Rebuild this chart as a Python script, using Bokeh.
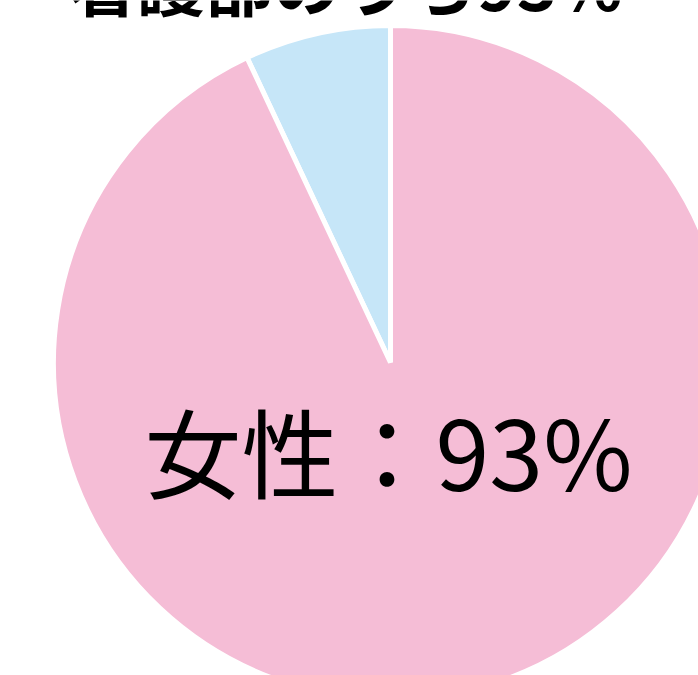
import numpy as np
from bokeh.plotting import figure
from bokeh.models import ColumnDataSource, Range1d
from bokeh.core.properties import value
from bokeh.embed import file_html
from bokeh.resources import INLINE

# data
labels = ["男性", "女性"]
shares = [7, 93]
colors = ["#c6e6f8", "#f5bdd6"]
label_text = "女性：93%"
title_text = "看護部のうち93%"

W, H = 698, 675
p = figure(width=W, height=H, output_backend="svg", toolbar_location=None,
           x_range=Range1d(0, W), y_range=Range1d(0, H), min_border=0)
p.axis.visible = False
p.grid.visible = False
p.outline_line_color = None
p.background_fill_color = "white"
p.border_fill_color = "white"

vals = np.array(shares, dtype=float)
frac = vals / vals.sum()
ends = np.pi / 2 + 2 * np.pi * np.cumsum(frac)
starts = np.concatenate([[np.pi / 2], ends[:-1]])

cx, cy, r = 390, H - 362, 337
src = ColumnDataSource(dict(label=labels, start=starts, end=ends, color=colors))
p.wedge(x=cx, y=cy, radius=r, start_angle="start", end_angle="end",
        direction="anticlock", fill_color="color", line_color="white",
        line_width=5, source=src)

p.text(x=[388], y=[H - 448], text=[label_text], text_font=value("Noto Sans CJK JP"),
       text_font_size="97px", text_align="center", text_baseline="middle",
       text_color="#000000")

p.text(x=[345], y=[H - 30], text=[title_text], text_font=value("Noto Sans CJK JP"),
       text_font_size="68px", text_font_style="bold", text_align="center",
       text_baseline="bottom", text_color="#000000")

open("out.html", "w").write(file_html(p, INLINE))
